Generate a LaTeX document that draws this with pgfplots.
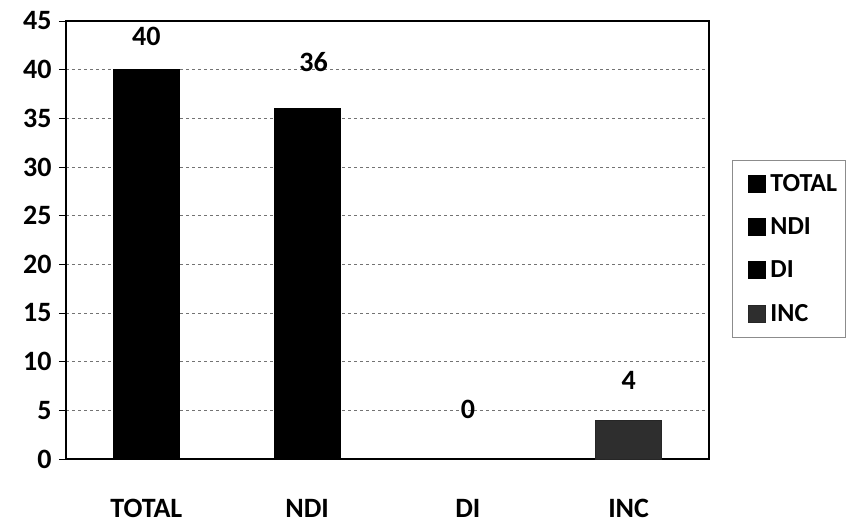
\documentclass[border=0pt]{standalone}
\usepackage{pgfplots}
\pgfplotsset{compat=1.18}
\usepackage{fontspec}
\setmainfont{Carlito}
\begin{document}
\begin{tikzpicture}
\begin{axis}[
  name=ax,
  scale only axis,
  width=643pt, height=438pt,
  xmin=-0.5, xmax=3.5,
  ymin=0, ymax=45,
  ytick={0,5,...,45},
  xtick={0,1,2,3},
  xticklabels={TOTAL,NDI,DI,INC},
  axis line style={line width=1.8pt, black},
  tick align=outside,
  major tick length=7pt,
  ytick pos=left,
  xtick pos=bottom,
  ytick style={black, line width=0.8pt},
  xtick style={draw=none},
  ymajorgrids,
  grid style={dashed, black!55, line width=0.7pt},
  /pgf/number format/assume math mode=true,
  tick label style={font=\fontsize{28}{32}\selectfont\bfseries},
  yticklabel style={xshift=-4pt},
  xticklabel style={yshift=-30pt},
  legend style={at={(1.036,0.683)}, anchor=north west, draw=black!45, line width=0.6pt,
    font=\fontsize{26}{31}\selectfont\bfseries, inner xsep=6pt, inner ysep=12pt,
    row sep=21pt},
  legend cell align=left,
  ybar legend/.style={legend image code/.code={\fill[##1] (10pt,-8.5pt) rectangle (27pt,8.5pt); \path[draw=none,fill=none] (0pt,0pt) -- (30pt,0pt);}},
  ybar, bar width=66pt,
  clip=false,
]
\addplot[fill=black, draw=black, bar shift=0pt] coordinates {(0,40)};
\addlegendentry{TOTAL}
\addplot[fill=black, draw=black, bar shift=0pt] coordinates {(1,36)};
\addlegendentry{NDI}
\addplot[fill=black, draw=black, bar shift=0pt] coordinates {(2,0)};
\addlegendentry{DI}
\addplot[fill=black!82, draw=black!85, bar shift=0pt] coordinates {(3,4)};
\addlegendentry{INC}
\addplot[forget plot, draw=none, mark=none, bar shift=0pt,
  point meta=explicit symbolic,
  nodes near coords,
  nodes near coords style={anchor=center, font=\fontsize{28}{32}\selectfont\bfseries, black}]
  coordinates {(0,43.4)[40] (1.04,40.8)[36] (2,5.1)[0] (3,8.1)[4]};
\end{axis}
\path ([xshift=-66pt,yshift=-65pt]ax.south west) rectangle ([xshift=144pt,yshift=21pt]ax.north east);
\end{tikzpicture}
\end{document}
